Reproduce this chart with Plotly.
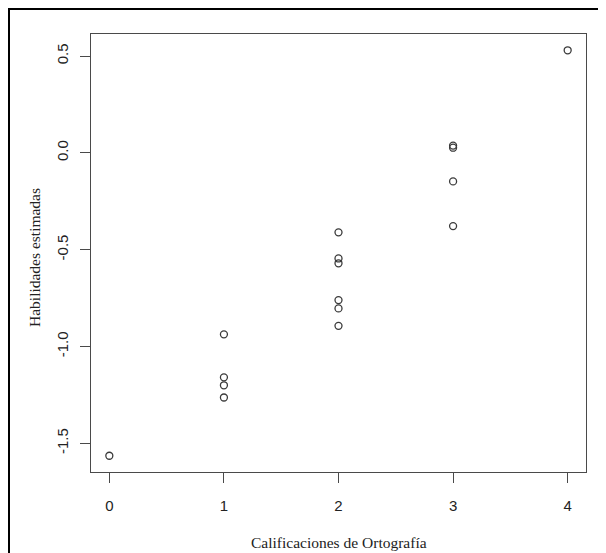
import plotly.graph_objects as go

# Data
calificaciones = [0,
                  1, 1, 1, 1,
                  2, 2, 2, 2, 2, 2,
                  3, 3, 3, 3,
                  4]
habilidades = [-1.564,
               -0.937, -1.159, -1.200, -1.263,
               -0.410, -0.545, -0.570, -0.760, -0.803, -0.893,
               0.038, 0.027, -0.147, -0.378,
               0.530]
x_ticks = [0, 1, 2, 3, 4]
y_ticks = [-1.5, -1.0, -0.5, 0.0, 0.5]
y_tick_labels = ["-1.5", "-1.0", "-0.5", "0.0", "0.5"]

W, H = 606, 553
OFF = 8  # the page body margin shifts the figure by 8 px
L, R, T, B = 91 - OFF, 586 - OFF, 34 - OFF, 472 - OFF

fig = go.Figure()
fig.add_trace(go.Scatter(
    x=calificaciones, y=habilidades, mode="markers",
    marker=dict(symbol="circle-open", size=7, color="#3a3a3a",
                line=dict(width=1.3, color="#3a3a3a")),
    showlegend=False, hoverinfo="x+y"))

axis_common = dict(showgrid=False, zeroline=False, showline=True, mirror=True,
                   linecolor="#4a4a4a", linewidth=1.2, ticks="outside",
                   ticklen=10, tickwidth=1.2, tickcolor="#4a4a4a",
                   tickfont=dict(family="Liberation Sans, Arial, sans-serif",
                                 size=15, color="#222222"))

fig.update_xaxes(range=[-0.16, 4.16], tickmode="array", tickvals=x_ticks,
                 ticktext=[str(v) for v in x_ticks], ticklabelstandoff=10,
                 **axis_common)
fig.update_yaxes(range=[-1.6478, 0.6142], tickmode="array", tickvals=y_ticks,
                 ticktext=y_tick_labels, tickangle=-90, ticklabelstandoff=6,
                 **axis_common)

def px_x(p):
    # p: page pixel
    return (p - OFF - L) / (R - L)

def px_y(p):
    return (B - (p - OFF)) / (B - T)

fig.add_annotation(text="Calificaciones de Ortografía", xref="paper", yref="paper",
                   x=0.5, y=px_y(542), xanchor="center", yanchor="middle",
                   showarrow=False,
                   font=dict(family="Liberation Serif, Times New Roman, serif",
                             size=15.5, color="#222222"))
fig.add_annotation(text="Habilidades estimadas", xref="paper", yref="paper",
                   x=px_x(34), y=px_y(258), xanchor="center", yanchor="middle",
                   textangle=-90, showarrow=False,
                   font=dict(family="Liberation Serif, Times New Roman, serif",
                             size=15.5, color="#222222"))

# outer black frame of the picture
fig.add_shape(type="rect", xref="paper", yref="paper",
              x0=px_x(9), x1=px_x(602), y0=px_y(575), y1=px_y(9),
              line=dict(color="black", width=2), layer="above")

fig.update_layout(width=W, height=H, margin=dict(l=L, r=W - R, t=T, b=H - B),
                  paper_bgcolor="white", plot_bgcolor="white")

fig.write_html("out.html")
